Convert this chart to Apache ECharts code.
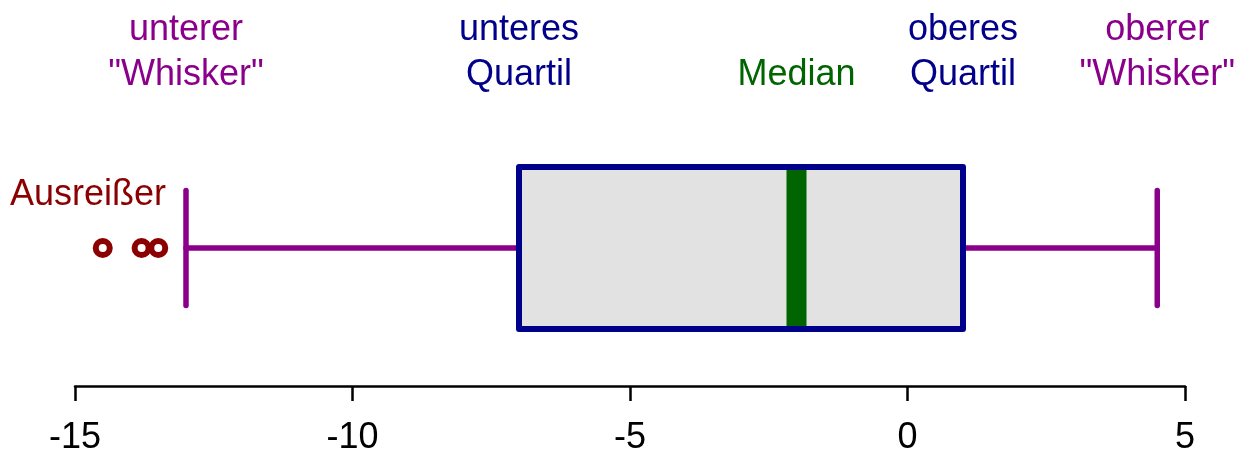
<!DOCTYPE html>
<html>
<head>
<meta charset="utf-8">
<title>Boxplot</title>
<script src="https://cdn.jsdelivr.net/npm/echarts@6/dist/echarts.min.js"></script>
<style>
    html, body { margin: 0; padding: 0; background: #ffffff; }
    #boxDiv { width: 1242px; height: 450px; }
</style>
</head>
<body>
<div id="boxDiv"></div>
<script>
// Kennwerte: unterer Whisker, unteres Quartil, Median, oberes Quartil, oberer Whisker
var boxStats = [-13, -7, -2, 1, 4.5];
var outliers = [-14.5, -13.8, -13.5];
var xTicks = [-15, -10, -5, 0, 5];
var statLabels = ['unterer\n"Whisker"', 'unteres\nQuartil', 'Median', 'oberes\nQuartil', 'oberer\n"Whisker"'];
var outlierLabel = 'Ausreißer';

var purple = '#8B008B';
var blue = '#00008B';
var green = '#006400';
var red = '#8B0000';
var labelColors = [purple, blue, green, blue, purple];
var fontFamily = '"Liberation Sans", Arial, Helvetica, sans-serif';

function renderBox(params, api) {
    var cat = api.value(0);
    var pMin = api.coord([api.value(1), cat]);
    var pQ1 = api.coord([api.value(2), cat]);
    var pMed = api.coord([api.value(3), cat]);
    var pQ3 = api.coord([api.value(4), cat]);
    var pMax = api.coord([api.value(5), cat]);
    var cy = pMed[1];
    var boxH = 162;   // Höhe der Box
    var capH = 115;   // Höhe der Whisker-Enden
    var children = [];

    // Whisker
    var whiskerStyle = { stroke: purple, lineWidth: 5.5, lineCap: 'round' };
    children.push({ type: 'line', shape: { x1: pMin[0], y1: cy, x2: pQ1[0], y2: cy }, style: whiskerStyle });
    children.push({ type: 'line', shape: { x1: pQ3[0], y1: cy, x2: pMax[0], y2: cy }, style: whiskerStyle });
    children.push({ type: 'line', shape: { x1: pMin[0], y1: cy - capH / 2, x2: pMin[0], y2: cy + capH / 2 }, style: whiskerStyle });
    children.push({ type: 'line', shape: { x1: pMax[0], y1: cy - capH / 2, x2: pMax[0], y2: cy + capH / 2 }, style: whiskerStyle });

    // Box-Füllung
    children.push({ type: 'rect', shape: { x: pQ1[0], y: cy - boxH / 2, width: pQ3[0] - pQ1[0], height: boxH }, style: { fill: '#E2E2E2' } });
    // Median
    children.push({ type: 'rect', shape: { x: pMed[0] - 10, y: cy - boxH / 2, width: 20, height: boxH }, style: { fill: green } });
    // Rahmen
    children.push({ type: 'rect', shape: { x: pQ1[0], y: cy - boxH / 2, width: pQ3[0] - pQ1[0], height: boxH }, style: { fill: 'none', stroke: blue, lineWidth: 6, lineJoin: 'round' } });

    // Beschriftungen oben
    var pts = [pMin, pQ1, pMed, pQ3, pMax];
    for (var i = 0; i < pts.length; i++) {
        children.push({
            type: 'text',
            style: {
                text: statLabels[i],
                x: pts[i][0],
                y: cy - 150,
                align: 'center',
                verticalAlign: 'bottom',
                lineHeight: 45,
                font: '36px ' + fontFamily,
                fill: labelColors[i]
            }
        });
    }
    // Ausreißer-Beschriftung
    children.push({
        type: 'text',
        style: {
            text: outlierLabel,
            x: pMin[0] - 20,
            y: cy - 53,
            align: 'right',
            verticalAlign: 'middle',
            font: '36px ' + fontFamily,
            fill: red
        }
    });
    return { type: 'group', children: children };
}

var myChart = echarts.init(document.getElementById('boxDiv'));
var option = {
    animation: false,
    backgroundColor: '#ffffff',
    grid: {
        left: 75,
        right: 57,
        top: 110,
        bottom: 64,
        outerBoundsMode: 'none'
    },
    xAxis: {
        type: 'value',
        min: xTicks[0],
        max: xTicks[xTicks.length - 1],
        interval: 5,
        axisLine: { show: true, lineStyle: { color: '#000000', width: 2.5 } },
        axisTick: { show: true, length: 15, lineStyle: { color: '#000000', width: 2.5 } },
        axisLabel: {
            margin: 34,
            fontSize: 36,
            fontFamily: fontFamily,
            color: '#000000'
        },
        splitLine: { show: false }
    },
    yAxis: {
        type: 'category',
        data: ['Werte'],
        show: false
    },
    series: [
        {
            type: 'custom',
            clip: false,
            renderItem: renderBox,
            encode: { x: [1, 2, 3, 4, 5], y: 0 },
            data: [[0].concat(boxStats)]
        },
        {
            type: 'scatter',
            symbol: 'circle',
            symbolSize: 14,
            itemStyle: { color: 'rgba(0,0,0,0)', borderColor: red, borderWidth: 6, opacity: 1 },
            data: outliers.map(function (v) { return [v, 0]; })
        }
    ]
};
myChart.setOption(option);
</script>
</body>
</html>
